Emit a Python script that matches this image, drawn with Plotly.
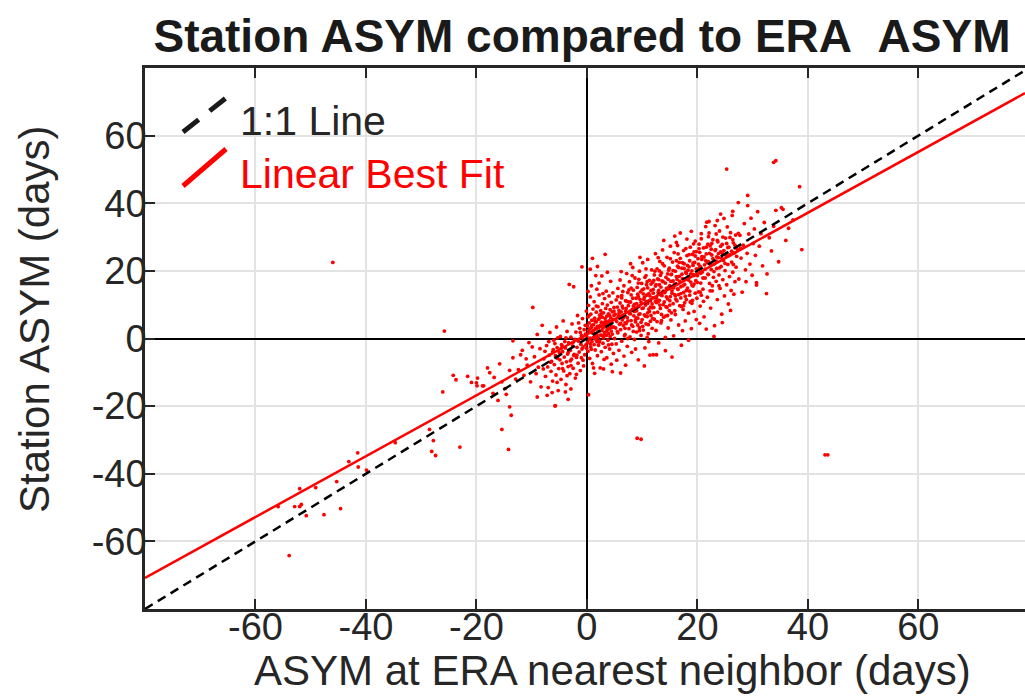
import plotly.graph_objects as go

# ---------------- data ----------------
# ERA nearest-neighbour ASYM (x) and station ASYM (y), in days, grouped by region of the cloud
era_outliers = [-46.0, -25.8, -53.9, -55.9, -52.9, -52.0, -51.7, -52.0, -50.8, -49.1,
                -47.6, -45.3, -44.6, -43.1, -41.5, -41.4, -39.9, -34.7, -28.5, -27.8,
                -28.1, -27.4, -23.0, -26.1, -23.7, -24.2, -14.2, -15.4, -14.0, -13.7,
                9.1, 9.8, 43.1, 43.6, 33.8, 34.2, 25.3, 38.5, 38.9, 0.3,
                -3.4, -5.8, 1.0, 3.3, -0.9]
stn_outliers = [22.5, 2.2, -64.2, -49.7, -49.7, -49.7, -49.1, -44.4, -52.4, -44.1,
                -52.1, -42.3, -50.3, -36.4, -33.8, -38.0, -38.9, -30.8, -26.9, -30.2,
                -33.4, -34.6, -32.1, -15.8, -12.2, -10.9, -32.8, -26.9, -20.2, -22.7,
                -29.5, -29.8, -34.4, -34.4, 52.1, 52.6, 50.1, 44.9, 26.3, -16.6,
                -18.0, -19.9, 23.7, 24.9, 21.2]

era_tail = [-20.0, -18.0, -17.6, -18.7, -15.4, -16.1, -14.8, -14.0, -13.4, -11.7,
            -12.4, -11.4, -10.8, -9.9, -9.8, -13.4, -9.0, -7.2, -8.3, -5.7,
            -20.9, -19.8, -19.9, -18.9, -21.6, -17.0, -12.9, -11.0, -10.2, -9.5,
            -8.8, -8.5, -10.5, -12.0, -15.8, -16.8, -14.6, -9.2, -8.1, -9.0]
stn_tail = [-13.1, -8.7, -10.1, -14.0, -12.8, -18.3, -14.8, -9.4, -5.7, -3.5,
            -9.2, -10.9, -7.9, -2.5, 9.2, -0.7, -17.3, -16.8, -14.3, -19.9,
            -13.0, -11.7, -14.0, -14.0, -11.2, -16.2, -12.0, -6.0, -12.8, -5.4,
            -8.5, -3.0, -1.2, -4.8, -7.5, -11.5, -16.5, -10.4, 3.9, 1.2]

era_neg = [-7.8, -7.5, -7.3, -7.1, -7.0, -6.8, -6.7, -6.5, -6.4, -6.2,
           -6.1, -6.0, -5.9, -5.7, -5.6, -5.5, -5.4, -5.2, -5.1, -5.0,
           -4.9, -4.8, -4.7, -4.6, -4.5, -4.4, -4.3, -4.2, -4.1, -4.0,
           -3.9, -3.8, -3.7, -3.6, -3.5, -3.4, -3.3, -3.2, -3.1, -3.0,
           -2.9, -2.8, -2.7, -2.6, -2.5, -2.4, -2.3, -2.2, -2.1, -2.0,
           -1.9, -1.8, -1.7, -1.6, -1.5, -1.4, -1.3, -1.2, -1.1, -1.0,
           -0.9, -0.8, -0.7, -0.6, -0.5, -0.4, -0.3, -0.2, -0.1, -0.05,
           -7.6, -6.9, -6.3, -5.8, -5.3, -4.7, -3.9, -3.6, -2.9, -2.4,
           -1.9, -1.5, -1.0, -0.6, -0.3, -7.9, -6.6, -5.4, -4.4, -3.0]
stn_neg = [-6.0, -11.2, -2.1, -8.4, -14.5, -4.9, 1.8, -9.7, -6.8, -12.6,
           -3.3, -0.5, -7.7, -5.1, -10.8, 3.4, -2.7, -15.4, -8.9, -4.2,
           -6.3, 0.6, -12.1, -1.8, -7.4, -3.9, 5.2, -9.6, -5.5, -0.9,
           -2.8, -13.6, -6.9, 2.1, -4.6, -8.3, -1.2, 16.0, -10.4, -3.5,
           0.4, -6.1, 4.3, -2.2, -8.8, 15.3, -4.7, -0.3, -11.7, 1.9,
           -5.6, -2.6, 6.8, -7.3, -0.8, -4.0, 3.0, -9.5, -1.7, 0.9,
           -3.1, 5.9, -6.4, -0.2, 2.6, -4.8, 1.3, -1.9, 8.1, -2.9,
           -3.8, -0.9, -16.0, -1.5, 0.2, -3.0, -15.8, -11.0, -14.9, -5.0,
           -10.6, 4.6, -5.7, -8.1, 3.9, -9.0, -7.0, -13.0, -8.9, -6.6]

era_near0 = [0.0, 0.1, 0.1, 0.2, 0.2, 0.3, 0.3, 0.4, 0.4, 0.5,
             0.5, 0.6, 0.6, 0.7, 0.7, 0.8, 0.8, 0.9, 0.9, 1.0,
             1.0, 1.1, 1.1, 1.2, 1.2, 1.3, 1.3, 1.4, 1.4, 1.5,
             1.5, 1.6, 1.6, 1.7, 1.7, 1.8, 1.8, 1.9, 1.9, 2.0,
             2.0, 2.1, 2.1, 2.2, 2.2, 2.3, 2.3, 2.4, 2.4, 2.5,
             2.5, 2.6, 2.6, 2.7, 2.7, 2.8, 2.8, 2.9, 2.9, 3.0,
             3.0, 3.1, 3.1, 3.2, 3.2, 3.3, 3.3, 3.4, 3.4, 3.5,
             3.5, 3.6, 3.6, 3.7, 3.7, 3.8, 3.8, 3.9, 3.9, 4.0,
             4.0, 4.1, 4.1, 4.2, 4.2, 4.3, 4.3, 4.4, 4.4, 4.5,
             4.5, 4.6, 4.6, 4.7, 4.7, 4.8, 4.8, 4.9, 4.9, 5.0,
             0.6, 1.4, 2.2, 3.0, 3.7, 4.4, 0.2, 1.9, 2.9, 4.6]
stn_near0 = [0.5, -1.2, 3.7, 6.4, -3.8, 1.9, 9.8, -0.4, 4.6, -5.9,
             2.8, 12.3, 0.1, 7.2, -2.5, 3.3, 15.6, -0.9, 5.4, 1.6,
             -7.4, 8.7, 2.3, -8.7, 4.1, -1.8, 10.9, 0.7, 6.0, -3.4,
             2.9, 18.6, -0.2, 4.9, 7.8, 14.6, 1.2, -5.1, 3.6, 9.4,
             0.4, 5.7, -2.0, 2.1, 12.9, 6.9, -0.7, -8.7, 3.9, 1.0,
             8.2, -3.9, 4.8, 18.5, 2.4, 10.3, 6.3, -1.4, 3.1, 0.2,
             7.6, -6.2, 4.4, 11.8, 1.8, 5.9, -2.6, 8.9, 3.5, 0.9,
             14.0, -5.7, 6.6, 2.7, 9.9, 4.0, -0.5, 7.3, 1.5, 12.6,
             5.2, -3.1, 3.0, 8.5, 0.6, 6.1, 16.9, 2.2, 10.7, -1.7,
             4.7, 7.9, 1.3, 13.5, 5.6, -4.4, 3.4, 9.2, 6.8, 0.0,
             20.5, -10.3, 16.4, -9.0, 19.6, -7.6, 13.9, 21.3, 13.3, -9.8]

era_low = [5.1, 5.2, 5.3, 5.3, 5.4, 5.5, 5.6, 5.6, 5.7, 5.8,
           5.9, 6.0, 6.0, 6.1, 6.2, 6.3, 6.3, 6.4, 6.5, 6.6,
           6.7, 6.7, 6.8, 6.9, 7.0, 7.0, 7.1, 7.2, 7.3, 7.3,
           7.4, 7.5, 7.6, 7.7, 7.7, 7.8, 7.9, 8.0, 8.0, 8.1,
           8.2, 8.3, 8.3, 8.4, 8.5, 8.6, 8.6, 8.7, 8.8, 8.9,
           9.0, 9.0, 9.1, 9.2, 9.3, 9.3, 9.4, 9.5, 9.5, 9.6,
           9.7, 9.8, 9.8, 9.9, 10.0, 10.0, 10.1, 10.2, 10.3, 10.3,
           10.4, 10.5, 10.5, 10.6, 10.7, 10.8, 10.8, 10.9, 11.0, 11.0,
           11.1, 11.2, 11.3, 11.3, 11.4, 11.5, 11.5, 11.6, 11.7, 11.8,
           11.8, 11.9, 11.9, 5.4, 6.2, 7.0, 7.9, 8.8, 9.6, 10.4,
           11.2, 6.5, 7.4, 8.4, 9.2, 10.2, 11.0, 5.8, 7.2, 8.9,
           6.1, 12.0, 5.6, 8.2, 10.7, 6.9, 9.4, 11.6, 7.6, 10.9]
stn_low = [7.2, 3.1, 11.4, -1.6, 5.0, 9.3, 1.7, 14.8, 6.6, -3.5,
           4.2, 10.5, 17.3, 2.6, 7.9, -0.8, 12.7, 5.5, 9.0, 3.8,
           15.6, -5.2, 6.9, 1.2, 11.2, 8.1, 4.4, 19.2, -2.3, 6.2,
           13.6, 9.7, 2.9, 7.4, 16.8, 0.5, 10.8, 5.3, 12.9, -4.1,
           8.6, 3.6, 21.0, 14.3, 6.7, 10.1, -0.3, 17.9, 4.9, 11.9,
           8.2, 1.9, 15.1, 6.0, -6.3, 12.4, 9.5, 3.2, 19.9, 7.3,
           13.8, 0.9, 10.7, 16.3, 5.6, 8.9, 22.4, 2.5, 11.6, 14.7,
           7.0, -2.8, 18.1, 9.9, 4.3, 12.8, 15.9, 6.5, 23.4, 10.4,
           1.4, 13.3, 8.0, 17.2, -4.9, 11.1, 5.1, 14.2, 20.3, 9.1,
           3.0, 12.0, 16.6, -6.4, 19.8, -7.9, 22.1, -3.1, 24.0, -8.1,
           -0.9, 13.9, 0.0, 9.6, 4.0, 13.2, 7.6, 8.3, 11.0, 6.1,
           -10.2, -4.8, 12.4, 18.6, 20.6, 4.6, 17.5, 6.8, 14.4, 0.3]

era_mid = [12.0, 12.1, 12.2, 12.2, 12.3, 12.4, 12.5, 12.5, 12.6, 12.7,
           12.8, 12.9, 13.0, 13.0, 13.1, 13.2, 13.3, 13.4, 13.4, 13.5,
           13.6, 13.7, 13.8, 13.8, 13.9, 14.0, 14.1, 14.2, 14.3, 14.3,
           14.4, 14.5, 14.6, 14.7, 14.7, 14.8, 14.9, 15.0, 15.1, 15.1,
           15.2, 15.3, 15.4, 15.5, 15.6, 15.6, 15.7, 15.8, 15.9, 16.0,
           16.0, 16.1, 16.2, 16.3, 16.4, 16.4, 16.5, 16.6, 16.7, 16.8,
           16.9, 17.0, 17.0, 17.1, 17.2, 17.3, 17.4, 17.5, 17.5, 17.6,
           17.7, 17.8, 17.9, 18.0, 18.1, 18.1, 18.2, 18.3, 18.4, 18.5,
           18.6, 18.7, 18.8, 18.9, 19.0, 19.0, 19.1, 19.2, 19.3, 19.4,
           19.5, 19.6, 19.6, 19.7, 19.8, 19.9, 12.6, 13.9, 15.4, 16.9,
           18.4, 19.8, 12.9, 14.2, 15.9, 17.3, 18.9, 13.5, 15.0, 16.6,
           18.0, 19.4, 14.6, 17.7, 13.1, 16.2, 19.2, 15.7, 12.4, 18.6]
stn_mid = [14.5, 9.2, 18.8, 5.7, 12.1, 25.1, 15.9, 2.4, 10.6, 20.6,
           7.8, 13.7, 17.4, -1.3, 11.3, 22.8, 8.9, 15.2, 4.6, 19.4,
           12.7, 26.2, 10.0, 16.8, 6.3, 21.5, 13.9, -3.6, 18.1, 9.4,
           14.8, 24.0, 11.7, 3.1, 17.5, 20.2, 8.2, 15.6, 27.3, 12.4,
           5.5, 19.0, 14.1, 22.6, 10.3, 17.0, 0.8, 25.4, 13.0, 19.9,
           7.1, 16.2, 28.4, 11.1, 27.5, 21.4, 14.5, 4.0, 18.4, 9.7,
           23.7, 15.3, 12.0, -2.0, 20.8, 17.7, 8.6, 26.0, 13.6, 22.1,
           16.0, 5.2, 19.6, 11.5, 29.4, 24.5, 14.9, 18.2, 7.5, 21.2,
           12.8, 27.0, 16.7, 2.9, 20.0, 10.4, 24.9, 15.5, 18.9, 8.0,
           22.5, 28.8, 13.4, 17.1, 25.7, 11.9, -4.8, 29.0, -5.5, 31.2,
           -0.5, 5.6, 23.9, 0.3, 30.3, 2.3, 31.7, 7.1, 9.9, 13.0,
           19.3, 16.1, 6.8, 10.6, 20.0, 23.0, 21.6, 15.0, 11.0, 14.0]

era_high = [20.0, 20.1, 20.2, 20.3, 20.4, 20.5, 20.6, 20.7, 20.8, 20.9,
            21.0, 21.1, 21.2, 21.3, 21.4, 21.5, 21.6, 21.7, 21.8, 21.9,
            22.0, 22.0, 22.1, 22.2, 22.3, 22.4, 22.5, 22.6, 22.7, 22.8,
            22.9, 23.0, 23.1, 23.2, 23.3, 23.4, 23.5, 23.6, 23.7, 23.8,
            23.9, 24.0, 24.1, 24.2, 24.3, 24.4, 24.5, 24.6, 24.7, 24.8,
            24.9, 25.0, 25.1, 25.2, 25.3, 25.4, 25.5, 25.6, 25.7, 25.8,
            25.9, 26.0, 26.1, 26.2, 26.3, 26.4, 26.5, 26.6, 26.7, 26.8,
            26.9, 20.4, 21.6, 23.0, 24.5, 26.0, 24.2, 26.4, 21.1, 23.6]
stn_high = [18.6, 23.6, 13.8, 27.9, 20.9, 9.6, 16.4, 31.0, 24.2, 19.7,
            14.6, 26.8, 6.4, 21.8, 17.9, 33.1, 25.0, 34.4, 12.2, 19.0,
            30.1, 22.7, 34.6, 16.3, 27.4, 9.0, 20.4, 24.7, 14.1, 29.2,
            18.1, 22.0, 3.8, 33.4, 26.3, 16.9, 20.7, 11.5, 28.6, 23.9,
            18.8, 31.8, 14.8, 25.6, 21.3, 7.2, 27.8, 17.4, 23.1, 35.5,
            12.6, 20.1, 29.7, 24.4, 15.9, 33.0, 21.9, 10.2, 27.0, 18.3,
            24.8, 31.3, 14.2, 22.6, 36.4, 19.6, 28.3, 13.1, 25.3, 16.8,
            30.6, 4.5, 2.8, 0.6, 4.7, 8.3, 36.8, 37.6, 11.0, 34.9]

era_far = [27.0, 27.2, 27.4, 27.5, 27.7, 27.9, 28.1, 28.3, 28.5, 28.7,
           28.8, 29.0, 29.1, 29.1, 29.3, 29.5, 29.7, 29.9, 30.1, 30.3,
           30.5, 30.7, 30.7, 30.9, 31.2, 31.5, 31.8, 32.1, 32.5, 32.6,
           33.0, 33.4, 33.8, 34.2, 34.7, 35.2, 35.5, 36.0, 36.5, 37.3]
stn_far = [21.1, 26.4, 40.2, 17.6, 30.5, 23.8, 13.7, 27.6, 34.0, 20.3,
           16.8, 25.2, 42.3, 39.3, 30.9, 22.0, 35.6, 18.7, 28.1, 32.4,
           24.6, 16.5, 15.8, 37.5, 27.3, 31.0, 21.5, 34.3, 13.3, 19.1,
           29.8, 25.9, 33.2, 37.9, 22.7, 38.7, 38.2, 29.0, 32.6, 35.1]

# dense core of the cloud, close to the fitted line
era_core = [3.2, 3.6, 4.1, 4.5, 4.9, 5.2, 5.5, 5.8, 6.1, 6.4,
            6.6, 6.9, 7.1, 7.4, 7.6, 7.9, 8.1, 8.3, 8.6, 8.8,
            9.0, 9.2, 9.4, 9.6, 9.8, 10.0, 10.2, 10.4, 10.6, 10.8,
            11.0, 11.2, 11.4, 11.6, 11.8, 12.0, 12.2, 12.4, 12.6, 12.8,
            13.0, 13.2, 13.4, 13.6, 13.8, 14.0, 14.2, 14.4, 14.6, 14.8,
            15.0, 15.2, 15.4, 15.6, 15.8, 16.0, 16.2, 16.4, 16.6, 16.8,
            17.0, 17.2, 17.4, 17.6, 17.8, 18.0, 18.2, 18.4, 18.6, 18.8,
            19.0, 19.2, 19.4, 19.6, 19.8, 20.0, 20.2, 20.4, 20.6, 20.8,
            21.0, 21.2, 21.4, 21.6, 21.8, 22.0, 22.2, 22.4, 22.6, 22.8,
            23.0, 23.2, 23.4, 23.6, 23.8, 24.0, 24.2, 24.4, 24.6, 24.8,
            25.0, 25.3, 25.6, 25.9, 26.2, 26.5, 26.8, 27.1, 27.4, 27.8,
            0.3, 0.6, 0.9, 1.2, 1.5, 1.8, 2.1, 2.4, 2.7, 3.0,
            0.4, 0.8, 1.3, 1.7, 2.2, 2.6, 3.1, 3.5, 3.9, 4.3,
            9.3, 10.7, 12.3, 13.7, 15.1, 16.5, 17.9, 19.3, 20.7, 22.1,
            9.5, 11.1, 12.7, 14.3, 15.9, 17.5, 19.1, 20.7, 22.3, 23.9,
            6.3, 8.0, 10.9, 13.3, 14.9, 16.7, 18.5, 20.3, 21.9, 23.4,
            6.8, 8.4, 10.1, 11.9, 13.5, 15.3, 17.1, 18.7, 20.5, 22.7,
            -1.2, -2.5, -3.4, -4.5, -5.3, -6.2, -1.8, -2.9, -0.7, -3.8,
            12.1, 13.1, 14.1, 15.2, 16.3, 17.3, 18.3, 19.4, 20.5, 21.5,
            22.5, 23.5, 24.5, 25.5, 26.4, 11.5, 12.9, 14.5, 16.1, 17.8]
stn_core = [4.8, 2.2, 6.9, 3.3, 8.1, 5.6, 2.0, 7.4, 4.5, 9.6,
            6.1, 3.0, 8.9, 5.2, 10.8, 7.3, 4.0, 11.9, 8.0, 5.5,
            10.3, 13.1, 7.1, 11.6, 4.8, 14.4, 9.0, 12.2, 6.6, 10.9,
            15.0, 8.7, 12.6, 16.1, 10.2, 13.4, 7.6, 15.5, 11.9, 17.6,
            14.2, 9.9, 12.9, 17.0, 14.0, 10.8, 16.4, 12.3, 19.1, 15.1,
            11.2, 16.9, 13.4, 20.1, 15.9, 12.6, 18.3, 14.7, 21.0, 16.9,
            13.3, 19.0, 15.6, 20.7, 17.6, 14.2, 21.6, 17.3, 23.0, 19.1,
            15.8, 22.3, 18.6, 24.4, 20.6, 16.6, 22.0, 25.5, 19.3, 23.4,
            17.9, 24.1, 20.5, 27.0, 22.4, 18.9, 25.2, 21.8, 28.1, 23.6,
            19.8, 26.0, 22.9, 29.0, 25.1, 20.9, 27.3, 23.8, 30.0, 26.0,
            22.2, 28.1, 24.5, 29.9, 25.8, 21.9, 27.6, 24.3, 31.1, 26.7,
            2.3, -1.6, 3.9, 0.3, 5.1, -0.9, 3.4, 6.2, 0.9, 3.8,
            6.8, -3.2, 1.4, 9.6, -1.1, 7.3, 1.0, 5.0, -1.9, 4.0,
            16.4, 18.6, 19.9, 22.1, 23.6, 25.0, 26.6, 28.0, 29.5, 31.2,
            2.3, 4.1, 5.0, 6.7, 8.2, 9.7, 11.3, 12.8, 14.1, 15.6,
            12.0, 14.9, 16.8, 18.7, 20.8, 22.5, 24.8, 26.6, 27.9, 30.9,
            0.8, 2.1, 3.6, 5.9, 5.3, 7.6, 9.5, 10.8, 13.7, 15.6,
            1.8, -1.1, -4.2, -2.2, -5.9, -4.0, -4.9, -8.0, -2.5, 0.2,
            17.2, 15.9, 13.6, 18.9, 17.5, 22.4, 20.2, 25.6, 21.3, 23.0,
            26.4, 24.1, 25.2, 26.9, 29.2, 9.3, 10.9, 9.2, 11.6, 12.5]

# linear best fit
fit_slope = 0.90
fit_intercept = 1.2

tick_vals = [-60, -40, -20, 0, 20, 40, 60]
tick_text = ["-60", "-40", "-20", "0", "20", "40", "60"]
x_range = [-80, 79.3]
y_range = [-80, 80]

title_text = "Station ASYM compared to ERA\u00a0\u00a0ASYM"
x_title = "ASYM at ERA nearest neighbor (days)"
y_title = "Station ASYM (days)"
legend_labels = ["1:1 Line", "Linear Best Fit"]

# ---------------- figure ----------------
era_all = (era_outliers + era_tail + era_neg + era_near0 + era_low + era_mid
           + era_high + era_far + era_core)
stn_all = (stn_outliers + stn_tail + stn_neg + stn_near0 + stn_low + stn_mid
           + stn_high + stn_far + stn_core)

FONT = "Liberation Sans, Arial, Helvetica, sans-serif"
DARK = "#262626"
RED = "#ff0000"

fig = go.Figure()
fig.add_trace(go.Scatter(x=era_all, y=stn_all, mode="markers",
                         marker=dict(color=RED, size=3.8, line=dict(width=0)),
                         showlegend=False, hoverinfo="skip"))
line_x = [x_range[0], x_range[1]]
fig.add_trace(go.Scatter(x=line_x, y=line_x, mode="lines",
                         line=dict(color="black", width=2.5, dash="9px,6px"),
                         showlegend=False, hoverinfo="skip"))
fig.add_trace(go.Scatter(x=line_x, y=[fit_slope * v + fit_intercept for v in line_x], mode="lines",
                         line=dict(color=RED, width=2.5),
                         showlegend=False, hoverinfo="skip"))

L, R, T, B = 145, 0, 68, 87
W, H = 1025, 696
pw, ph = W - L - R, H - T - B


def px(xp):
    return (xp - L) / pw


def py(yp):
    return (H - B - yp) / ph


axis_common = dict(
    tickvals=tick_vals, ticktext=tick_text,
    ticks="inside", ticklen=10, tickwidth=2, tickcolor=DARK,
    showline=True, linecolor=DARK, linewidth=2.5,
    showgrid=True, gridcolor="#e3e3e3", gridwidth=2,
    zeroline=True, zerolinecolor="black", zerolinewidth=2,
    tickfont=dict(family=FONT, size=38, color=DARK),
    fixedrange=True,
)
fig.update_xaxes(range=x_range, mirror="ticks", ticklabelstandoff=-17, **axis_common)
fig.update_yaxes(range=y_range, mirror=False, ticklabelstandoff=-12, **axis_common)

shapes = [
    dict(type="line", xref="paper", yref="paper",
         x0=px(183), y0=py(132), x1=px(226), y1=py(98),
         line=dict(color="#1a1a1a", width=5, dash="20px,14px")),
    dict(type="line", xref="paper", yref="paper",
         x0=px(183), y0=py(186), x1=px(226), y1=py(149),
         line=dict(color=RED, width=5)),
]

annotations = [
    dict(text=legend_labels[0], xref="paper", yref="paper", x=px(238), y=py(121),
         xanchor="left", yanchor="middle", showarrow=False,
         font=dict(family=FONT, size=41, color=DARK)),
    dict(text=legend_labels[1], xref="paper", yref="paper", x=px(238), y=py(174),
         xanchor="left", yanchor="middle", showarrow=False,
         font=dict(family=FONT, size=41, color=RED)),
    dict(text=x_title, xref="paper", yref="paper", x=px(612), y=py(670),
         xanchor="center", yanchor="middle", showarrow=False,
         font=dict(family=FONT, size=42, color=DARK)),
    dict(text=y_title, xref="paper", yref="paper", x=px(34), y=py(319),
         xanchor="center", yanchor="middle", showarrow=False, textangle=-90,
         font=dict(family=FONT, size=42, color=DARK)),
]

fig.update_layout(
    width=W, height=H,
    margin=dict(l=L, r=R, t=T, b=B),
    paper_bgcolor="white", plot_bgcolor="white",
    title=dict(text="<b>" + title_text + "</b>", x=582 / W, xanchor="center",
               y=1 - 36 / H, yanchor="middle", xref="container", yref="container",
               font=dict(family=FONT, size=46, color="#1a1a1a")),
    shapes=shapes, annotations=annotations,
    showlegend=False,
)

fig.write_html("out.html", config={"displayModeBar": False})
